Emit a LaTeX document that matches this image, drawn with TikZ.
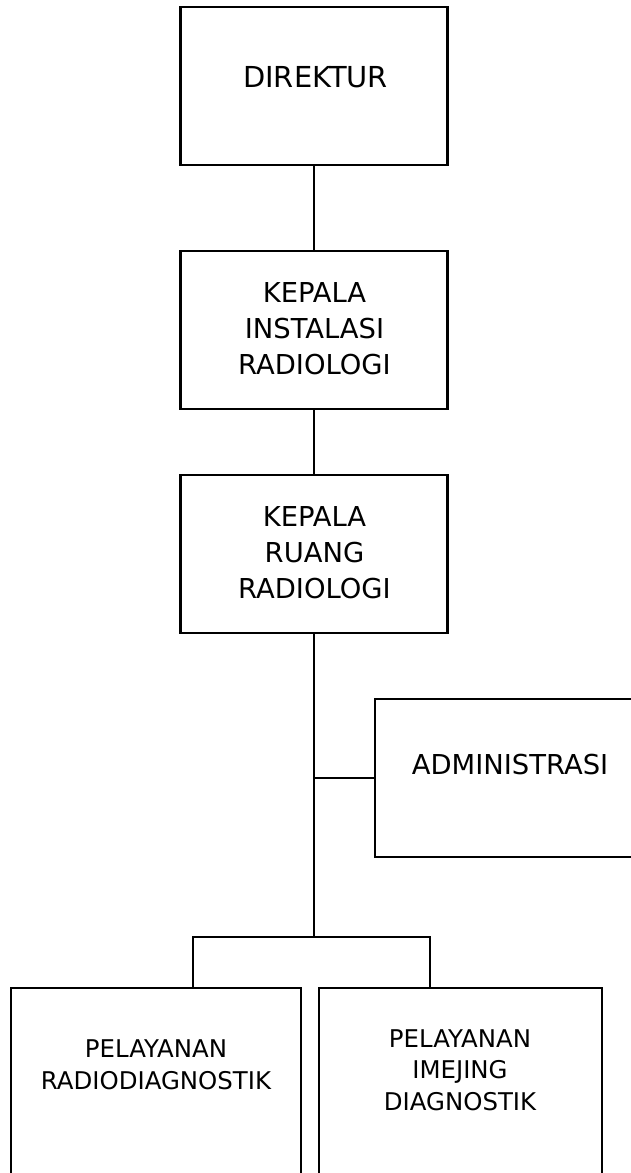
\documentclass[tikz,border=0pt]{standalone}
\usepackage{fontspec}
\setmainfont{DejaVu Sans}
\begin{document}
\begin{tikzpicture}[x=1bp,y=-1bp,
  line width=2.8bp,
  unitbox/.style={draw, rectangle, inner sep=0pt, minimum width=#1},
  unitbox/.default=267bp,
  toptext/.style={align=center, inner sep=0pt, font=\fontsize{27.5}{36}\selectfont},
  lowtext/.style={align=center, inner sep=0pt, font=\fontsize{24.5}{31.7}\selectfont}]
\useasboundingbox (0,0) rectangle (631,1173);
\clip (0,0) rectangle (631,1173);
\fill[white] (0,0) rectangle (631,1173);

% boxes of the chart
\node[unitbox, minimum height=158bp] (dir) at (314,86) {};
\node[unitbox, minimum height=158bp] (kir) at (314,330) {};
\node[unitbox, minimum height=158bp] (krr) at (314,554) {};
\node[unitbox=270bp, minimum height=158bp] (adm) at (510,778) {};
\node[unitbox=290bp, minimum height=240bp] (bl) at (156,1108) {};
\node[unitbox=283bp, minimum height=240bp] (br) at (460.5,1108) {};

% captions
\node[toptext, font=\fontsize{29}{36}\selectfont] (tdir) at (315.5,77) {DIREKTUR};
\node[toptext] (tkir) at (314.5,329) {KEPALA\\INSTALASI\\RADIOLOGI};
\node[toptext] (tkrr) at (314.5,553) {KEPALA\\RUANG\\RADIOLOGI};
\node[toptext] (tadm) at (510,765) {ADMINISTRASI};
\node[lowtext] (tbl) at (156,1065) {PELAYANAN\\RADIODIAGNOSTIK};
\node[lowtext] (tbr) at (460,1070) {PELAYANAN\\IMEJING\\DIAGNOSTIK};

% connectors
\coordinate (jn) at (313,937);
\coordinate (jl) at (193,937);
\coordinate (jr) at (430,937);
\draw (dir.south) -- (kir.north);
\draw (kir.south) -- (krr.north);
\draw (krr.south) -- (krr.south |- jn);
\draw (krr.south |- adm.west) -- (adm.west);
\draw (jl |- bl.north) -- (jl) -- (jr) -- (jr |- br.north);
\end{tikzpicture}
\end{document}
